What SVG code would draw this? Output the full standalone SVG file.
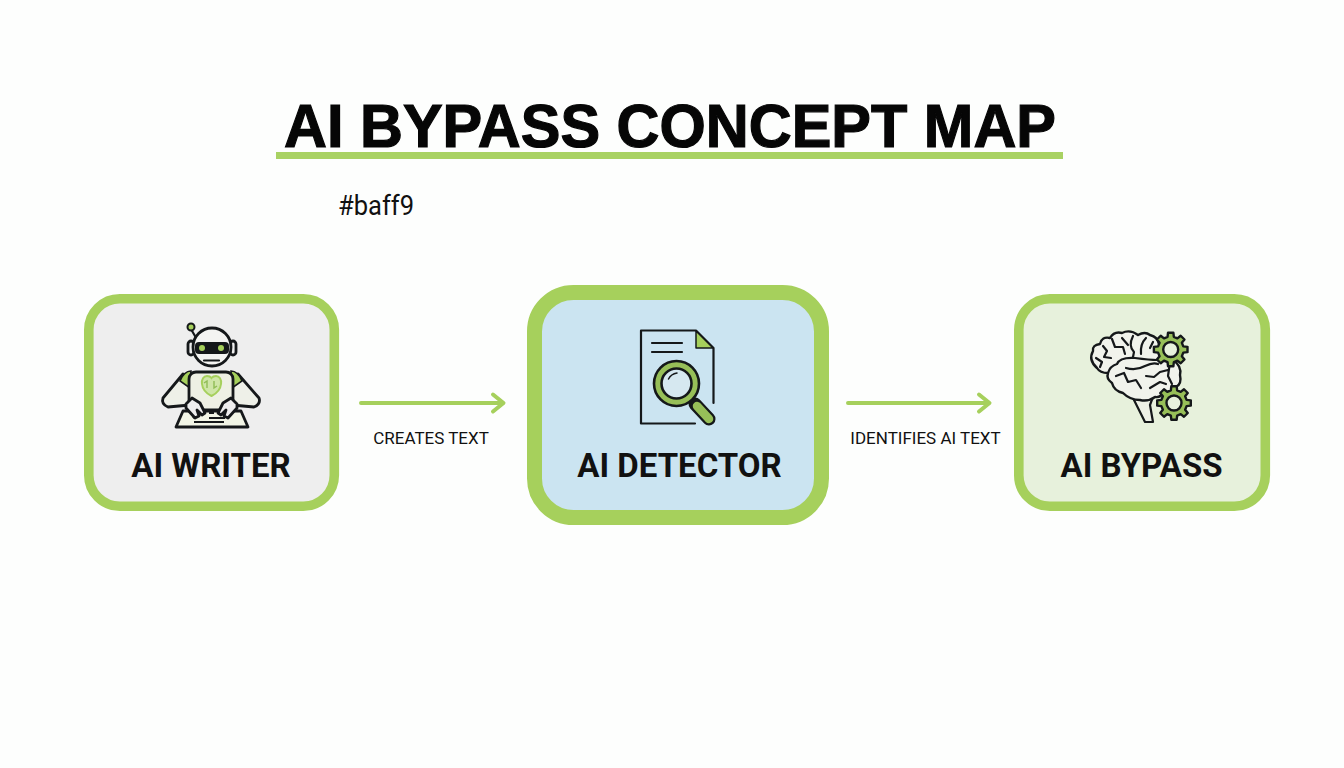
<svg xmlns="http://www.w3.org/2000/svg" width="1344" height="768" viewBox="0 0 1344 768">
<style>
.box{stroke:#a6d05c}
.name{font:700 33px Roboto,"Liberation Sans",sans-serif;fill:#111;text-anchor:middle}
.edge{font:400 17px Roboto,"Liberation Sans",sans-serif;fill:#111;text-anchor:middle}
.conn{fill:none;stroke:#a6d05c;stroke-width:4;stroke-linecap:round;stroke-linejoin:round}
.ink{stroke:#15181a;stroke-width:2.800;stroke-linecap:round;stroke-linejoin:round}
.thin{stroke:#15181a;stroke-width:2.200;fill:none;stroke-linecap:round;stroke-linejoin:round}
</style>
<defs>
<path id="gear" fill="#97bf58" stroke="#15181a" stroke-width="2.400" stroke-linejoin="round" d="M12.6-3.15 16.8-2.66 16.8 2.66 12.6 3.15 11.14 6.68 13.76 10 10 13.76 6.68 11.14 3.15 12.6 2.66 16.8-2.66 16.8-3.15 12.6-6.68 11.14-10 13.76-13.76 10-11.14 6.68-12.6 3.15-16.8 2.66-16.8-2.66-12.6-3.15-11.14-6.68-13.76-10-10-13.76-6.68-11.14-3.15-12.6-2.66-16.8 2.66-16.8 3.15-12.6 6.68-11.14 10-13.76 13.76-10 11.14-6.68Z"/>
</defs>
<rect width="1344" height="768" fill="#fdfefd"/>
<g id="title">
<text x="670" y="146.500" font-family="'Liberation Sans',Arial,sans-serif" font-weight="700" font-size="61" fill="#060606" stroke="#060606" stroke-width="1.200" text-anchor="middle" textLength="772" lengthAdjust="spacingAndGlyphs">AI BYPASS CONCEPT MAP</text>
<rect x="276" y="152" width="787" height="7" fill="#a9d263"/>
</g>
<text id="stray-label" x="338" y="214.500" font-family="Roboto,'Liberation Sans',sans-serif" font-size="27" fill="#111" textLength="76" lengthAdjust="spacingAndGlyphs">#baff9</text>

<g id="connectors">
<g id="edge-creates">
<path class="conn" d="M361 403H502M493 394.500 503.500 403 493 411.500"/>
<text class="edge" x="431" y="444">CREATES TEXT</text>
</g>
<g id="edge-identifies">
<path class="conn" d="M848 403H988M979 394.500 989.500 403 979 411.500"/>
<text class="edge" x="925.500" y="444">IDENTIFIES AI TEXT</text>
</g>
</g>

<g id="node-writer">
<rect class="box" x="88.800" y="298.800" width="245.500" height="207.500" rx="31" fill="#eeeeee" stroke-width="9.600"/>
<g id="robot">
<path class="ink" fill="#eef0e8" d="M183 374 163 398Q161 404 168 407L190 405 196 392 190 384Z"/>
<path class="ink" fill="#eef0e8" d="M238 374 259 398Q261 404 254 407L232 405 226 392 232 384Z"/>
<path d="M180 381Q184 371 191 371L190 388ZM242 381Q238 371 231 371L232 388Z" fill="#a6d05c" stroke="#15181a" stroke-width="1.600"/>
<rect class="ink" x="189" y="372" width="44" height="38" rx="7" fill="#eef0e4"/>
<path d="M211.500 396C199 390 200 376 207 376Q210 376 211.500 378Q213 376 216 376C223 376 224 390 211.500 396Z" fill="#cfe6a7" stroke="#a6d05c" stroke-width="2"/>
<path d="M207 388V381L204 383M214 381V388L217 386" fill="none" stroke="#8fbc55" stroke-width="1.400"/>
<path class="ink" fill="#f2f5e6" d="M183 411H241L248 427H176Z"/>
<path d="M193 418 196 415 M209 413H214M217 413H222M209 418H225M194 422H224" stroke="#15181a" stroke-width="2" fill="none"/>
<path class="ink" fill="#eeeeee" d="M186 404 192 398 200 403 205 413 202 415 197 410 199 416 195 418 186 408Z"/>
<path class="ink" fill="#eeeeee" d="M237 404 231 398 223 403 218 413 221 415 226 410 224 416 228 418 237 408Z"/>
<path class="thin" d="M195 336 191.500 330"/>
<circle cx="191" cy="327" r="3.500" fill="#a6d05c" stroke="#15181a" stroke-width="2"/>
<rect class="ink" x="188" y="341" width="6" height="14" rx="3" fill="#eeeeee"/>
<rect class="ink" x="230" y="341" width="6" height="14" rx="3" fill="#eeeeee"/>
<circle class="ink" cx="212" cy="347" r="19" fill="#f4f4f2"/>
<rect x="195" y="342" width="34" height="12" rx="4" fill="#15181a"/>
<circle cx="202" cy="348" r="3" fill="#a6d05c"/>
<circle cx="221" cy="348" r="3" fill="#a6d05c"/>
<path class="thin" d="M204 360.500H219"/>
</g>
<text class="name" x="211" y="476.500">AI WRITER</text>
</g>

<g id="node-detector">
<rect class="box" x="534.500" y="292.500" width="287" height="225" rx="39" fill="#cbe4f1" stroke-width="15"/>
<g id="document">
<path class="thin" stroke-width="2.600" d="M695 423.500H641V330.500H696L713.500 348V403"/>
<path d="M696 331V348H713Z" fill="#a6d05c" stroke="#15181a" stroke-width="1.500" stroke-linejoin="round"/>
<path class="thin" stroke-width="2.600" d="M652 343H682M652 352H682"/>
<path d="M695 404 709 419" stroke="#15181a" stroke-width="13" stroke-linecap="round"/>
<path d="M697 406 709 419" stroke="#97bf58" stroke-width="8.500" stroke-linecap="round"/>
<circle cx="676.500" cy="383.500" r="22.500" fill="#97bf58" stroke="#15181a" stroke-width="2.600"/>
<circle cx="676.500" cy="383.500" r="15" fill="#d6e8f0" stroke="#15181a" stroke-width="2.600"/>
<path d="M668.500 379Q671 374 677 373" fill="none" stroke="#15181a" stroke-width="1.500" stroke-linecap="round"/>
</g>
<text class="name" x="679.500" y="476.500">AI DETECTOR</text>
</g>

<g id="node-bypass">
<rect class="box" x="1018.800" y="298.800" width="246.500" height="207.500" rx="31" fill="#e7f1dc" stroke-width="9.600"/>
<g id="brain">
<path d="M1133 398 1145 422H1153L1150 405 1154 394Z" fill="#eef1e6" stroke="#15181a" stroke-width="2.200" stroke-linejoin="round"/>
<path d="M1097 368Q1088 360 1093 351Q1092 345 1100 344Q1102 336 1110 338Q1114 331 1122 333Q1130 329 1138 335Q1145 331 1150 335Q1158 337 1159 344L1173 360Q1182 366 1180 375Q1182 384 1176 387Q1172 393 1163 392Q1161 398 1155 397Q1148 402 1140 400Q1130 400 1123 393Q1114 391 1112 383Q1106 379 1108 373Q1100 373 1097 368Z" fill="#f1f3ec" stroke="#15181a" stroke-width="2.400" stroke-linejoin="round"/>
<path class="thin" d="M1108 373Q1110 366 1117 364Q1120 357 1135 358Q1150 360 1157 360Q1165 358 1172 355M1103 346 1107 351 1104 357 1111 358M1096 358 1102 362 1100 367M1112 339 1115 347 1123 347 1125 354M1122 338 1128 345M1133 336Q1128 346 1134 352L1133 357M1146 338Q1140 344 1141 354M1153 342 1150 348M1116 376 1124 373 1128 382 1136 380 1141 388M1126 368Q1136 371 1145 366Q1153 362 1158 364M1146 376 1154 377 1160 372 1168 370M1150 388 1160 382 1166 384M1170 362 1168 376 1172 384"/>
</g>
<use href="#gear" x="1170.700" y="349.500"/>
<circle cx="1170.700" cy="349.500" r="7.500" fill="#e7f1dc" stroke="#15181a" stroke-width="2.400"/>
<use href="#gear" x="1174" y="403"/>
<circle cx="1174" cy="403" r="7.500" fill="#e7f1dc" stroke="#15181a" stroke-width="2.400"/>
<text class="name" x="1141.500" y="476.500">AI BYPASS</text>
</g>
</svg>
